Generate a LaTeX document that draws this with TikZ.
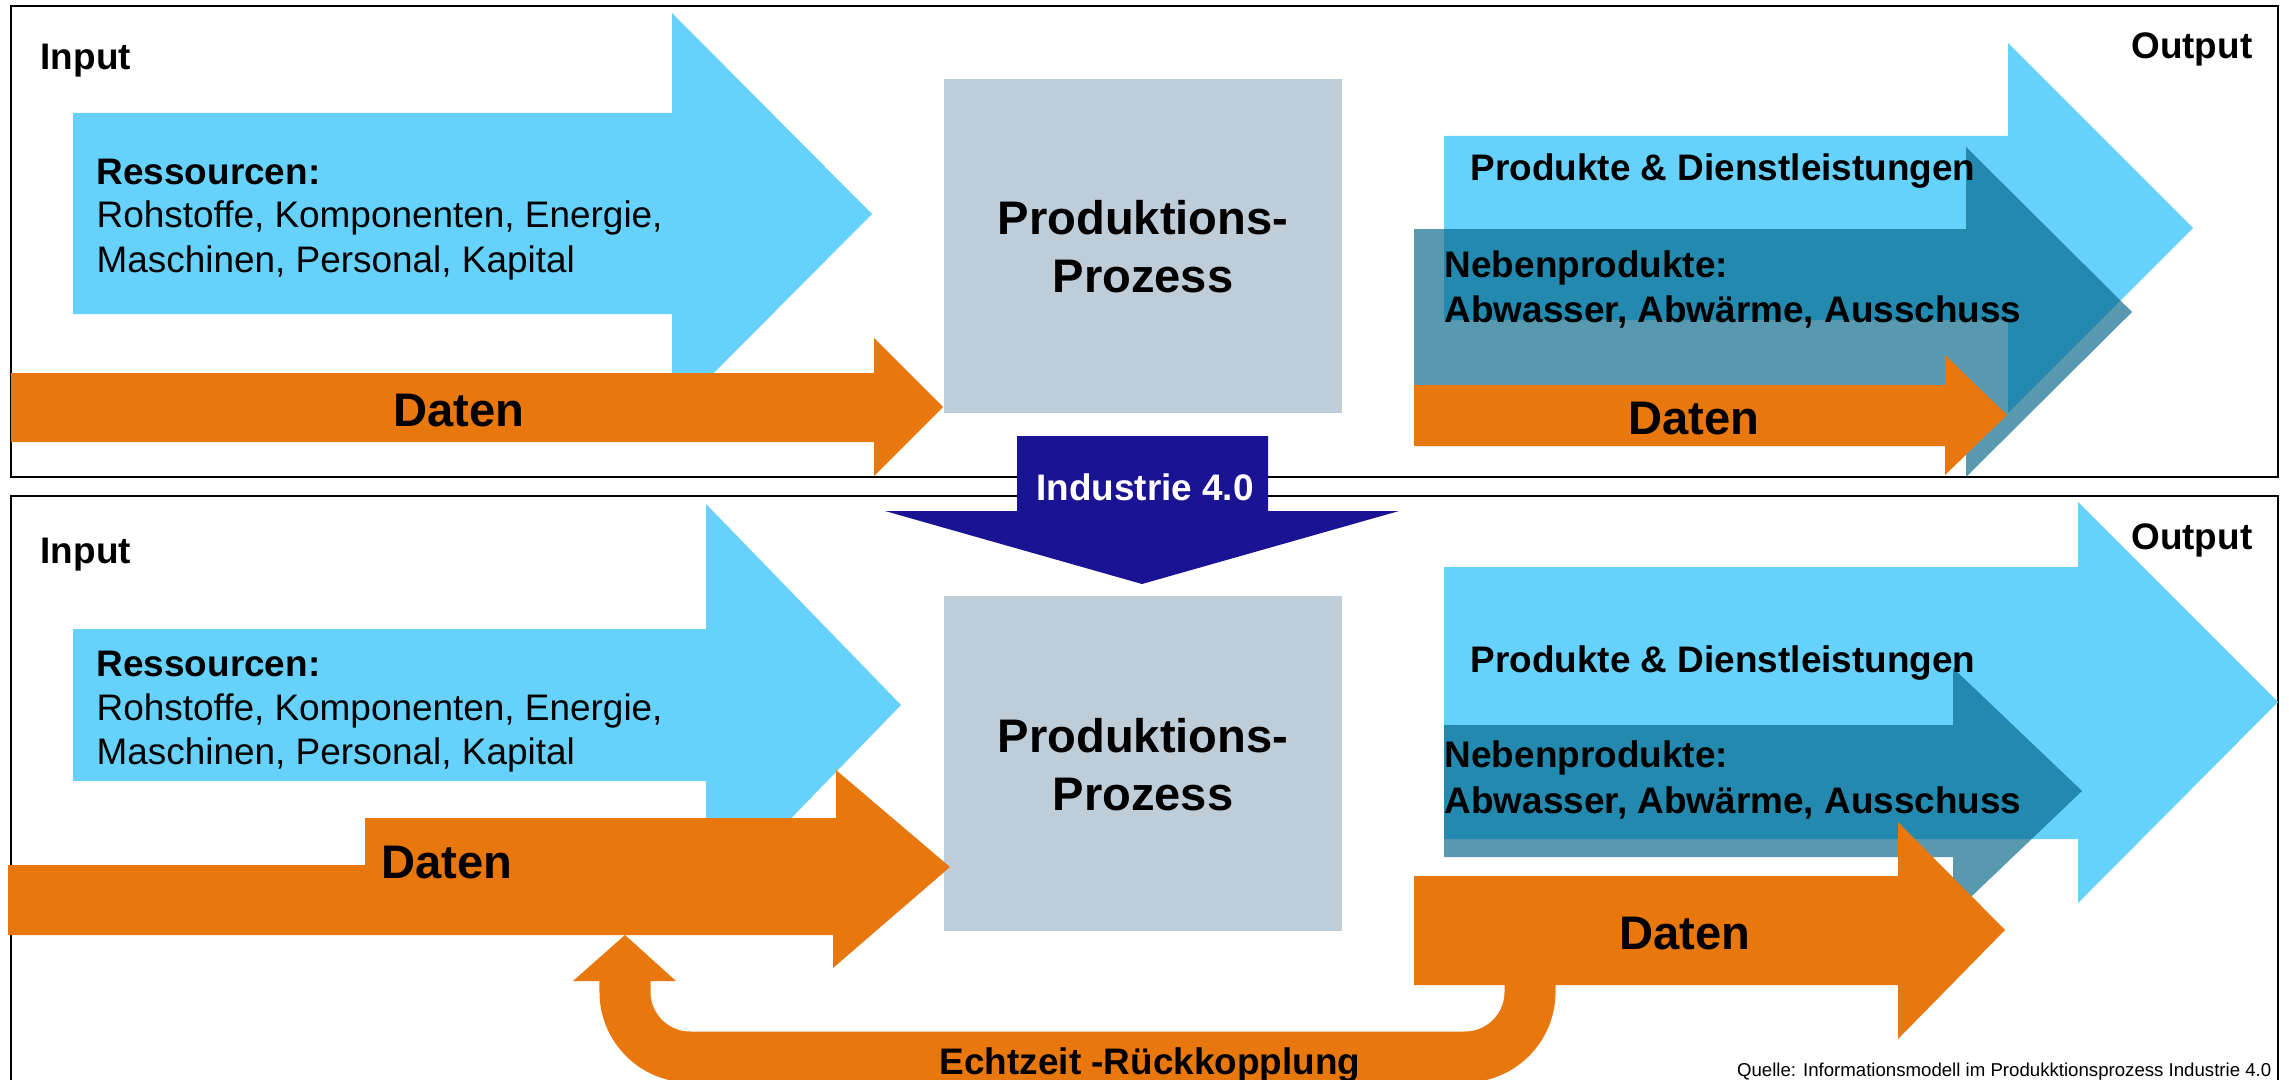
\documentclass[tikz,border=0pt]{standalone}
\usepackage{fontspec}
\setmainfont{Liberation Sans}
\definecolor{ressblue}{RGB}{102,210,252}
\definecolor{nebenteal}{RGB}{0,99,133}
\definecolor{datenorange}{RGB}{232,119,14}
\definecolor{prozessgray}{RGB}{191,205,216}
\definecolor{indnavy}{RGB}{26,20,148}

\begin{document}
\begin{tikzpicture}[x=0.01cm,y=-0.01cm,
    frame/.style={draw=black,line width=0.7pt},
    txt/.style={inner sep=0pt,anchor=base west,font=\fontsize{10.5}{12.5}\selectfont},
    btxt/.style={txt,font=\fontsize{10.5}{12.5}\selectfont\bfseries},
    big/.style={inner sep=0pt,align=center,font=\fontsize{13.4}{16.5}\selectfont\bfseries}]
        \useasboundingbox (0,0) rectangle (2289,1079);
        %%%FRAMES%%%
        \draw[frame] (11,6) rectangle (2278,477);
        \draw[frame] (11,496) rectangle (2278,1100);
        %%%TOP PANEL%%%
        \fill[ressblue] (73,113)--(672,113)--(672,13)--(872,214)--(672,415)--(672,314)--(73,314)--cycle;
        \fill[datenorange] (11,373)--(874,373)--(874,338)--(943,407)--(874,476)--(874,442)--(11,442)--cycle;
        \fill[prozessgray] (944,79) rectangle (1342,413);
        \fill[ressblue] (1444,136)--(2008,136)--(2008,43)--(2193,228)--(2008,413)--(2008,320)--(1444,320)--cycle;
        \fill[nebenteal,fill opacity=0.65] (1414,229)--(1966,229)--(1966,147)--(2132,312)--(1966,477)--(1966,395)--(1414,395)--cycle;
        \fill[datenorange] (1414,385)--(1945,385)--(1945,355)--(2007,415)--(1945,475)--(1945,446)--(1414,446)--cycle;
        %labels
        \node[btxt] (inA) at (40,70) {Input};
        \node[btxt,anchor=base east] (outA) at (2253,59) {Output};
        \node[btxt] (resA) at (96,184) {Ressourcen:};
        \node[txt] (resA2) at (96,227) {Rohstoffe, Komponenten, Energie,};
        \node[txt] (resA3) at (96,272) {Maschinen, Personal, Kapital};
        \node[big,anchor=base] (datA) at (459,426) {Daten};
        \node[big] (prozA) at (1143,247) {Produktions-\\Prozess};
        \node[btxt] (prodA) at (1470,180) {Produkte \& Dienstleistungen};
        \node[btxt] (nebA) at (1444,277) {Nebenprodukte:};
        \node[btxt] (nebA2) at (1444,322) {Abwasser, Abwärme, Ausschuss};
        \node[big,anchor=base] (datA2) at (1694,434) {Daten};
        %%%BOTTOM PANEL%%%
        \fill[ressblue] (73,629)--(706,629)--(706,504)--(901,705)--(706,906)--(706,781)--(73,781)--cycle;
        \fill[prozessgray] (944,596) rectangle (1342,931);
        \fill[datenorange] (8,865)--(365,865)--(365,818)--(836,818)--(836,770)--(950,867)--(833,968)--(833,935)--(8,935)--cycle;
        \fill[ressblue] (1444,567)--(2078,567)--(2078,502)--(2278,702)--(2078,903)--(2078,839)--(1444,839)--cycle;
        \fill[nebenteal,fill opacity=0.65] (1444,725)--(1953,725)--(1953,668)--(2082,791)--(1953,914)--(1953,857)--(1444,857)--cycle;
        \fill[datenorange] (1414,876)--(1898,876)--(1898,822)--(2005,930)--(1898,1039)--(1898,985)--(1414,985)--cycle;
        %feedback
        \coordinate (fbstart) at (1530,980);
        \coordinate (fbend) at (625,981);
        \coordinate (fbtip) at (625,935);
        \draw[datenorange,line width=0.51cm,rounded corners=0.65cm] (fbstart)--++(0,77)-|(fbend);
        \fill[datenorange] (573,981)--(fbtip)--(676,981)--cycle;
        %labels
        \node[btxt] (inB) at (40,563) {Input};
        \node[btxt,anchor=base east] (outB) at (2253,549) {Output};
        \node[btxt] (resB) at (96,676) {Ressourcen:};
        \node[txt] (resB2) at (96,720) {Rohstoffe, Komponenten, Energie,};
        \node[txt] (resB3) at (96,764) {Maschinen, Personal, Kapital};
        \node[big,anchor=base west] (datB) at (381,878) {Daten};
        \node[big] (prozB) at (1143,765) {Produktions-\\Prozess};
        \node[btxt] (prodB) at (1470,672) {Produkte \& Dienstleistungen};
        \node[btxt] (nebB) at (1444,767) {Nebenprodukte:};
        \node[btxt] (nebB2) at (1444,813) {Abwasser, Abwärme, Ausschuss};
        \node[big,anchor=base] (datB2) at (1685,949) {Daten};
        \node[btxt,anchor=base] (echt) at (1150,1074) {Echtzeit -Rückkopplung};
        \node[inner sep=0pt,anchor=base east,font=\fontsize{5.3}{6}\selectfont] (quelle) at (2272,1076) {Quelle: Informationsmodell im Produkktionsprozess Industrie 4.0};
        %%%INDUSTRIE 4.0%%%
        \fill[indnavy] (1017,436)--(1268,436)--(1268,511)--(1399,511)--(1142,584)--(885,511)--(1017,511)--cycle;
        \node[btxt,anchor=base,text=white] (ind) at (1145,500) {Industrie 4.0};
    \end{tikzpicture}
\end{document}
